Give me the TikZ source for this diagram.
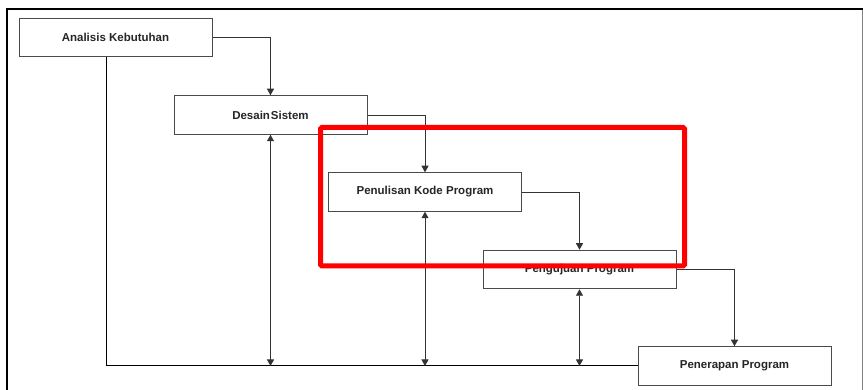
\documentclass[tikz,border=0pt]{standalone}
\usepackage{fontspec}
\setmainfont{Liberation Sans}
\usetikzlibrary{arrows.meta}
\definecolor{boxline}{HTML}{4A4A4A}
\definecolor{wire}{HTML}{333333}
\definecolor{mark}{HTML}{FF0000}
\definecolor{ink}{HTML}{262626}
\tikzset{
  stage/.style={draw=boxline, line width=1pt, fill=white, minimum width=193pt,
    minimum height=38.5pt, inner sep=0pt, text=ink,
    font=\bfseries\fontsize{11.5}{14}\selectfont},
  flow/.style={draw=wire, line width=0.9pt, -{Triangle[length=6.5pt,width=7pt]}},
  both/.style={draw=wire, line width=0.9pt, {Triangle[length=6.5pt,width=7pt]}-{Triangle[length=6.5pt,width=7pt]}},
  bus/.style={draw=black, line width=1pt},
  frameedge/.style={draw=black, line width=2pt},
  highlight/.style={draw=mark, line width=5pt, rounded corners=1.5pt}
}
\begin{document}
\begin{tikzpicture}[x=1pt, y=-1pt]
  \useasboundingbox (0,0) rectangle (863,390);

  % window frame
  \draw[frameedge] (7,391) -- (7,9) -- (864,9);
  \draw[gray, line width=1pt] (862.3,10) -- (862.3,391);

  % stages
  \node[stage] (a) at (115.5,37.5) {Analisis Kebutuhan};
  \node[stage] (b) at (270.5,115) {Desain\kern1pt Sistem};
  \node[stage] (c) at (425,192) {Penulisan Kode Program};
  \node[stage] (d) at (579.5,269.5) {Pengujuan Program};
  \node[stage] (e) at (734.5,366) {Penerapan Program};

  % forward flow
  \draw[flow] (a.east) -| (b.north);
  \draw[flow] (b.east) -| (c.north);
  \draw[flow] (c.east) -| (d.north);
  \draw[flow] (d.east) -| (e.north);

  % feedback bus along the bottom
  \coordinate (busL) at (106,366);
  \draw[bus] (a.south -| busL) |- (e.west);
  \draw[both] (b.south) -- (b.south |- e.west);
  \draw[both] (c.south) -- (c.south |- e.west);
  \draw[both] (d.south) -- (d.south |- e.west);

  % highlighted area
  \draw[highlight] (320.5,127.5) rectangle (684.5,266);
\end{tikzpicture}
\end{document}
